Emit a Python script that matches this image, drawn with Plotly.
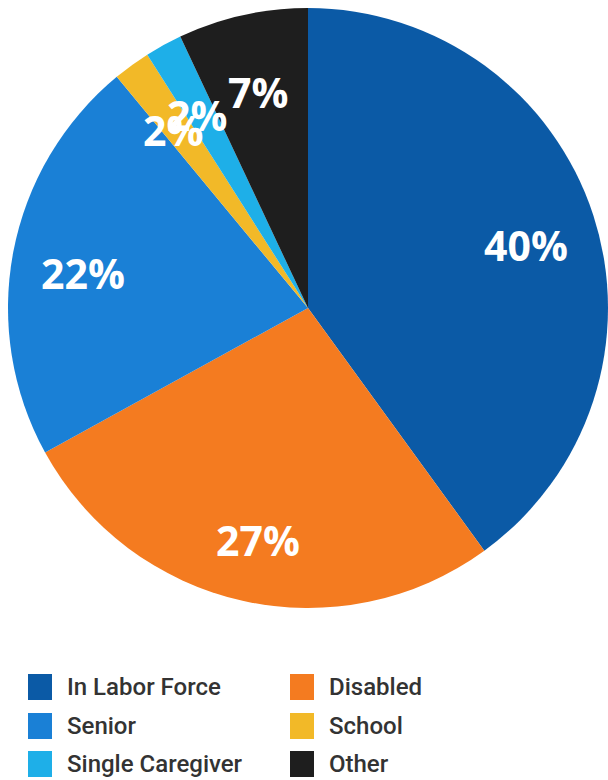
import math
import plotly.graph_objects as go

# Share of population by status
categories = ["In Labor Force", "Disabled", "Senior", "School", "Single Caregiver", "Other"]
shares = [40, 27, 22, 2, 2, 7]
colors = ["#0B5AA6", "#F47B20", "#1A80D6", "#F2B928", "#1EAFE8", "#1E1E1E"]

W, H = 608, 780
CX, CY, R = 308, 308, 300      # pie centre and radius in pixels
LABEL_R = 0.765                # radial position of the percent labels
LABEL_DY = 8                   # nudge so the digits sit centred on the anchor

fig = go.Figure()
fig.add_trace(go.Pie(
    labels=categories,
    values=shares,
    sort=False,
    direction="clockwise",
    rotation=0,
    marker=dict(colors=colors, line=dict(width=0)),
    textinfo="none",
    domain=dict(x=[(CX - R) / W, (CX + R) / W], y=[1 - (CY + R) / H, 1 - (CY - R) / H]),
    showlegend=False,
    hoverinfo="label+percent",
))

annotations, shapes = [], []

# Percent labels placed along each slice's mid-angle
total = sum(shares)
cum = 0
for v in shares:
    mid = 2 * math.pi * (cum + v / 2) / total
    cum += v
    px = CX + LABEL_R * R * math.sin(mid)
    py = CY - LABEL_R * R * math.cos(mid) + LABEL_DY
    annotations.append(dict(
        text=f"{v}%", xref="paper", yref="paper",
        x=px / W, y=1 - py / H, xanchor="center", yanchor="middle",
        showarrow=False,
        font=dict(family="Open Sans", size=41, color="white", weight=700),
    ))

# Two-column legend below the pie
col_x = [28, 290]
row_y = [687, 726, 764]
sw, sh = 24, 26
for i, (name, col) in enumerate(zip(categories, colors)):
    cx = col_x[i % 2]
    cy = row_y[i // 2]
    shapes.append(dict(
        type="rect", xref="paper", yref="paper",
        x0=cx / W, x1=(cx + sw) / W,
        y0=1 - (cy + sh / 2) / H, y1=1 - (cy - sh / 2) / H,
        fillcolor=col, line=dict(width=0),
    ))
    annotations.append(dict(
        text=name, xref="paper", yref="paper",
        x=(cx + sw + 13) / W, y=1 - cy / H,
        xanchor="left", yanchor="middle", showarrow=False,
        font=dict(family="Roboto", size=24, color="#333333", weight=500),
    ))

fig.update_layout(
    width=W, height=H,
    margin=dict(l=0, r=0, t=0, b=0),
    paper_bgcolor="white",
    plot_bgcolor="white",
    shapes=shapes,
    annotations=annotations,
)

fig.write_html("out.html")
